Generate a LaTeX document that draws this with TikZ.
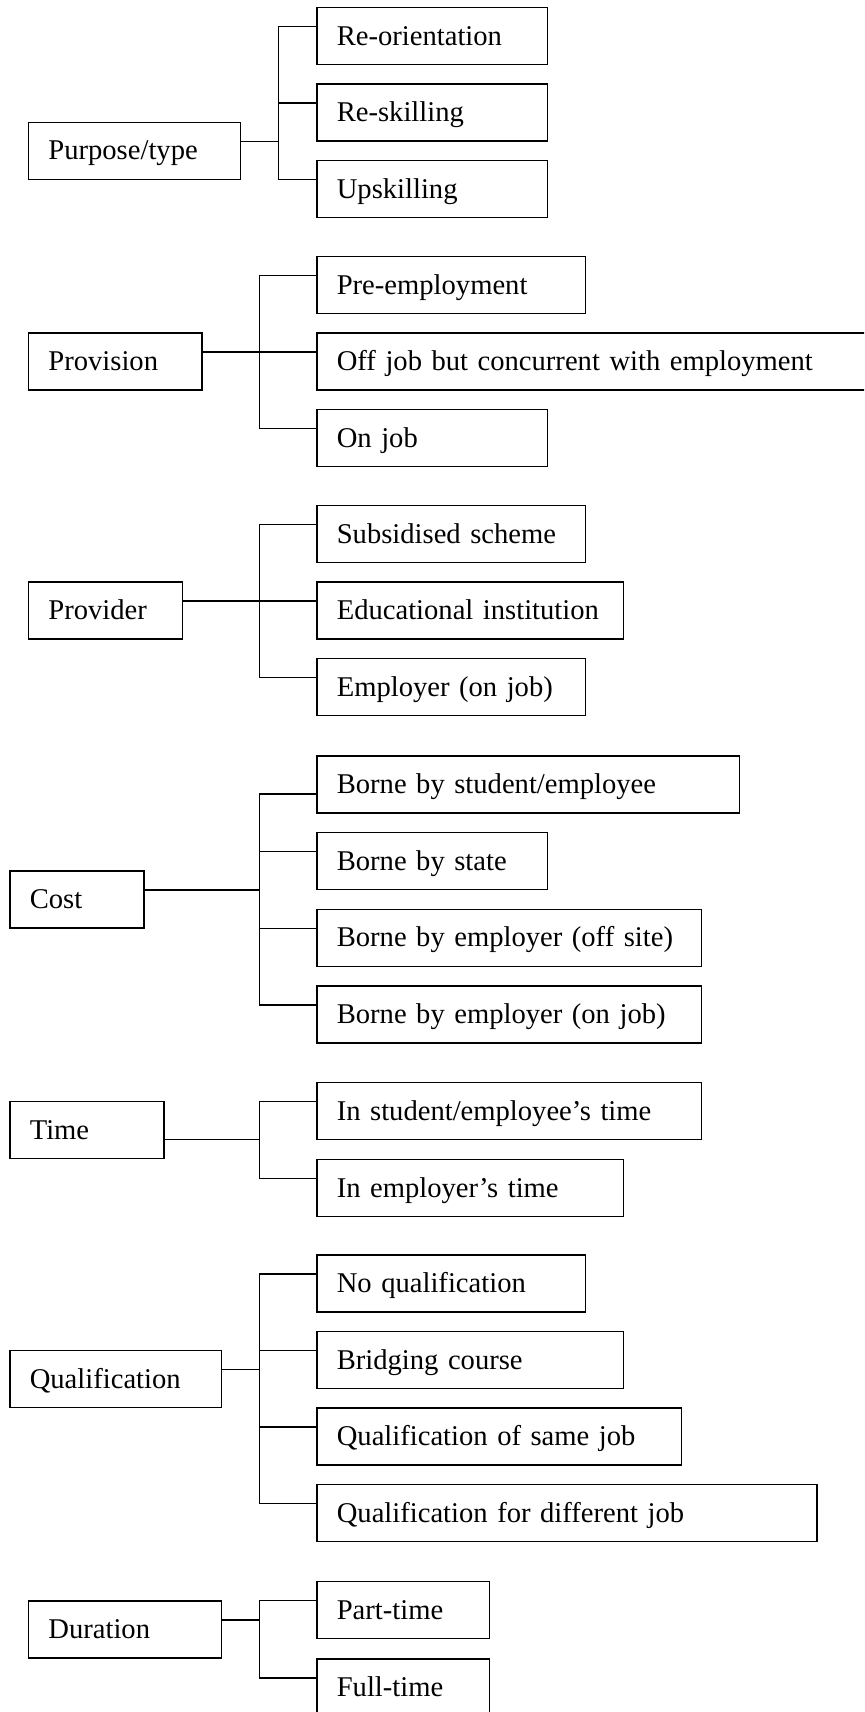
\documentclass[tikz,border=0pt]{standalone}
\usepackage{fontspec}
\setmainfont{Liberation Serif}
\usepackage{tikz}

\newcommand{\attup}{4.75pt}
\newcommand{\attdn}{-4.75pt}

\begin{document}
\begin{tikzpicture}[x=0.5pt,y=-0.5pt,line width=0.75pt,
    box/.style={draw,rectangle,anchor=north west,outer sep=0pt,inner xsep=2pt,inner ysep=0pt,
      minimum height=28.5pt,text height=12pt,text depth=2.9pt,text width=#1,align=left,
      execute at begin node={\hspace*{8pt}},
      font=\fontsize{14.3}{17}\selectfont}]
  \useasboundingbox (0,0) rectangle (864,1712);
  \clip (0,0) rectangle (864,1712);

  % purpose/type
  \node[box=101.95pt] (purp) at (28.4,122.3) {Purpose/type};
  \node[box=111.25pt] (reor) at (316.8,7.6) {Re-orientation};
  \node[box=111.25pt] (resk) at (316.8,84.1) {Re-skilling};
  \node[box=111.25pt] (upsk) at (316.8,160.6) {Upskilling};
  \coordinate (k1) at (278.5,0);
  \draw ([yshift=\attup]reor.west) -| ([yshift=\attup]upsk.west -| k1) -- ([yshift=\attup]upsk.west);
  \draw ([yshift=\attup]resk.west) -- ([yshift=\attup]resk.west -| k1);
  \draw ([yshift=\attup]purp.east) -- ([yshift=\attup]purp.east -| k1);

  % provision
  \node[box=82.85pt] (prov) at (28.4,333.2) {Provision};
  \node[box=130.35pt] (pree) at (316.8,256.7) {Pre-employment};
  \node[box=276pt] (offj) at (316.8,333.2) {Off job but concurrent with employment};
  \node[box=111.25pt] (onjb) at (316.8,409.7) {On job};
  \coordinate (k2) at (259.4,0);
  \draw ([yshift=\attup]pree.west) -| ([yshift=\attup]onjb.west -| k2) -- ([yshift=\attup]onjb.west);
  \draw ([yshift=\attup]prov.east) -- ([yshift=\attup]offj.west);

  % provider
  \node[box=73pt] (prvd) at (28.4,582.2) {Provider};
  \node[box=130.35pt] (subs) at (316.8,505.7) {Subsidised scheme};
  \node[box=149.45pt] (educ) at (316.8,582.2) {Educational institution};
  \node[box=130.35pt] (empl) at (316.8,658.7) {Employer (on job)};
  \coordinate (k3) at (259.4,0);
  \draw ([yshift=\attup]subs.west) -| ([yshift=\attup]empl.west -| k3) -- ([yshift=\attup]empl.west);
  \draw ([yshift=\attup]prvd.east) -- ([yshift=\attup]educ.west);

  % cost
  \node[box=63.2pt] (cost) at (9.8,871.1) {Cost};
  \node[box=207.35pt] (bstu) at (316.8,755.9) {Borne by student/employee};
  \node[box=111.25pt] (bsta) at (316.8,832.6) {Borne by state};
  \node[box=188.25pt] (boff) at (316.8,909.3) {Borne by employer (off site)};
  \node[box=188.25pt] (bonj) at (316.8,986.0) {Borne by employer (on job)};
  \coordinate (k4) at (259.4,0);
  \draw ([yshift=\attdn]bstu.west) -| ([yshift=\attup]bonj.west -| k4) -- ([yshift=\attup]bonj.west);
  \foreach \c in {bsta,boff}
    \draw ([yshift=\attup]\c.west) -- ([yshift=\attup]\c.west -| k4);
  \draw ([yshift=\attup]cost.east) -- ([yshift=\attup]cost.east -| k4);

  % time
  \node[box=73pt] (time) at (9.8,1101.5) {Time};
  \node[box=188.25pt] (tstu) at (316.8,1082.5) {In student/employee’s time};
  \node[box=149.45pt] (temp) at (316.8,1159.5) {In employer’s time};
  \coordinate (k5) at (259.4,0);
  \draw ([yshift=\attup]tstu.west) -| ([yshift=\attup]temp.west -| k5) -- ([yshift=\attup]temp.west);
  \draw ([yshift=\attdn]time.east) -- ([yshift=\attdn]time.east -| k5);

  % qualification
  \node[box=101.95pt] (qual) at (9.8,1350.5) {Qualification};
  \node[box=130.35pt] (nqua) at (316.8,1255.1) {No qualification};
  \node[box=149.45pt] (brid) at (316.8,1331.6) {Bridging course};
  \node[box=178.4pt] (same) at (316.8,1408.2) {Qualification of same job};
  \node[box=246.15pt] (diff) at (316.8,1484.7) {Qualification for different job};
  \coordinate (k6) at (259.4,0);
  \draw ([yshift=\attup]nqua.west) -| ([yshift=\attup]diff.west -| k6) -- ([yshift=\attup]diff.west);
  \foreach \c in {brid,same}
    \draw ([yshift=\attup]\c.west) -- ([yshift=\attup]\c.west -| k6);
  \draw ([yshift=\attup]qual.east) -- ([yshift=\attup]qual.east -| k6);

  % duration
  \node[box=92.65pt] (dura) at (28.4,1600.9) {Duration};
  \node[box=82.3pt] (part) at (316.8,1581.7) {Part-time};
  \node[box=82.3pt] (full) at (316.8,1659.1) {Full-time};
  \coordinate (k7) at (259.4,0);
  \draw ([yshift=\attup]part.west) -| ([yshift=\attup]full.west -| k7) -- ([yshift=\attup]full.west);
  \draw ([yshift=\attup]dura.east) -- ([yshift=\attup]dura.east -| k7);
\end{tikzpicture}
\end{document}
